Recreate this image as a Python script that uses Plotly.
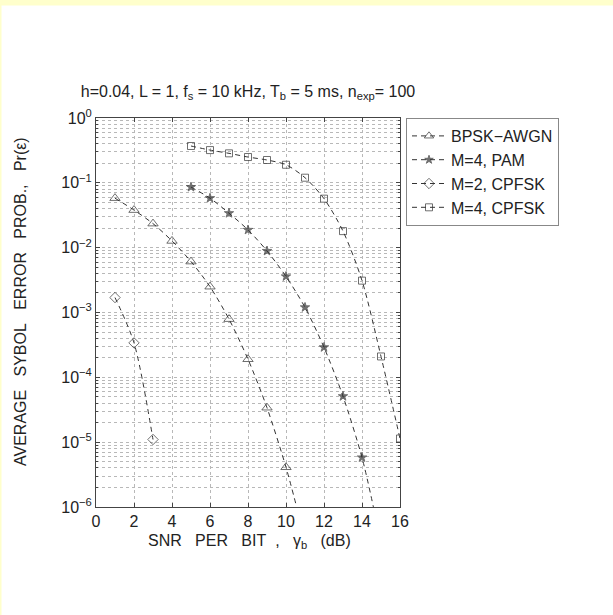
import plotly.graph_objects as go

# ---- data ----
snr_bpsk = [1, 2, 3, 4, 5, 6, 7, 8, 9, 10]
pe_bpsk = [0.058, 0.038, 0.0235, 0.0127, 0.0061, 0.0025, 7.9e-4, 1.9e-4, 3.4e-5, 4.1e-6]
bpsk_tail_x = [10.56]
bpsk_tail_y = [1e-6]

snr_pam = [5, 6, 7, 8, 9, 10, 11, 12, 13, 14]
pe_pam = [0.086, 0.058, 0.034, 0.0188, 0.0089, 0.0036, 0.0012, 2.9e-4, 5.1e-5, 5.8e-6]
pam_tail_x = [14.6]
pam_tail_y = [1e-6]

snr_cpfsk2 = [1, 2, 3]
pe_cpfsk2 = [0.0017, 3.4e-4, 1.1e-5]

snr_cpfsk4 = [5, 6, 7, 8, 9, 10, 11, 12, 13, 14, 15, 16]
pe_cpfsk4 = [0.37, 0.32, 0.285, 0.25, 0.225, 0.19, 0.12, 0.057, 0.018, 0.0031, 2.1e-4, 1.14e-5]

names = ["BPSK\u2212AWGN", "M=4, PAM", "M=2, CPFSK", "M=4, CPFSK"]

x_ticks = [0, 2, 4, 6, 8, 10, 12, 14, 16]
y_tickvals = [1e-6, 1e-5, 1e-4, 1e-3, 1e-2, 1e-1, 1]
y_ticktext = ["10<sup>\u22126</sup>", "10<sup>\u22125</sup>", "10<sup>\u22124</sup>", "10<sup>\u22123</sup>",
              "10<sup>\u22122</sup>", "10<sup>\u22121</sup>", "10<sup>0</sup>"]

FONT = "Liberation Sans, Arial, Helvetica, sans-serif"
INK = "#222222"
LINE = "#333333"
DASH = "5px,4px"
FS = 16

fig = go.Figure()

def add(xs, ys, tx, ty, name, symbol, size):
    X = list(xs) + list(tx)
    Y = list(ys) + list(ty)
    sizes = [size] * len(xs) + [0] * len(tx)
    fig.add_trace(go.Scatter(
        x=X, y=Y, name=name, mode="lines+markers",
        line=dict(color=LINE, width=1, dash=DASH, shape="spline", smoothing=0.8),
        marker=dict(symbol=symbol, size=sizes, color=LINE,
                    line=dict(color=LINE, width=1)),
    ))

add(snr_bpsk, pe_bpsk, bpsk_tail_x, bpsk_tail_y, names[0], "triangle-up-open", 9)
add(snr_pam, pe_pam, pam_tail_x, pam_tail_y, names[1], "star", 7)
add(snr_cpfsk2, pe_cpfsk2, [], [], names[2], "diamond-open", 8)
add(snr_cpfsk4, pe_cpfsk4, [], [], names[3], "square-open", 7)

W, H = 613, 615
L, R, T, B = 96, 400, 118, 507

def px_x(p):
    return (p - L) / (R - L)

def px_y(p):
    return (B - p) / (B - T)

grid_col = "#b8b8b8"

fig.update_layout(
    width=W, height=H,
    margin=dict(l=L, r=W - R, t=T, b=H - B),
    paper_bgcolor="white", plot_bgcolor="white",
    font=dict(family=FONT, size=FS, color=INK),
    showlegend=True,
    legend=dict(x=px_x(406), y=1, xanchor="left", yanchor="top",
                bordercolor="#888888", borderwidth=1, bgcolor="white",
                font=dict(size=FS, color=INK), tracegroupgap=0, itemwidth=34),
    title=dict(text="h=0.04, L = 1, f<sub>s</sub> = 10 kHz, T<sub>b</sub> = 5 ms, n<sub>exp</sub>= 100",
               x=0.5 * (L + R) / W, xanchor="center",
               y=1 - 91 / H, yanchor="middle", yref="container",
               font=dict(size=FS, color=INK)),
    xaxis=dict(range=[0, 16], tickvals=x_ticks, ticks="inside", ticklen=4,
               showline=True, linecolor="#444", linewidth=1, mirror="ticks",
               showgrid=True, gridcolor=grid_col, griddash="dot", gridwidth=1,
               zeroline=False, tickfont=dict(size=FS, color=INK)),
    yaxis=dict(type="log", range=[-6, 0], tickmode="array", tickvals=y_tickvals,
               ticktext=y_ticktext, ticks="inside", ticklen=4,
               showline=True, linecolor="#444", linewidth=1, mirror="ticks",
               showgrid=True, gridcolor=grid_col, griddash="dot", gridwidth=1,
               zeroline=False, tickfont=dict(size=FS, color=INK),
               minor=dict(dtick="D1", ticks="inside", ticklen=2, tickcolor="#444",
                          showgrid=True, gridcolor=grid_col, griddash="dot", gridwidth=1)),
)

nb = "\u00a0"
xtitle = f"SNR{nb*3}PER{nb*3}BIT{nb*2},{nb*3}\u03b3<sub>b</sub>{nb*3}(dB)"
ytitle = f"AVERAGE{nb*3}SYBOL{nb*3}ERROR{nb*3}PROB.,{nb*3}Pr(\u03b5)"

fig.add_annotation(text=xtitle, xref="paper", yref="paper", x=px_x(249), y=px_y(541),
                   xanchor="center", yanchor="middle", showarrow=False,
                   font=dict(size=FS, color=INK))
fig.add_annotation(text=ytitle, xref="paper", yref="paper", x=px_x(20), y=px_y(302),
                   xanchor="center", yanchor="middle", showarrow=False, textangle=-90,
                   font=dict(size=FS, color=INK))

# pale yellow page border (top and left)
yel = "#ffffcc"
fig.add_shape(type="rect", xref="paper", yref="paper", x0=px_x(0), x1=px_x(W),
              y0=px_y(5.5), y1=px_y(0), fillcolor=yel, line=dict(width=0), layer="above")
fig.add_shape(type="rect", xref="paper", yref="paper", x0=px_x(0), x1=px_x(1.5),
              y0=px_y(H), y1=px_y(0), fillcolor=yel, line=dict(width=0), layer="above")

fig.write_html("out.html")
